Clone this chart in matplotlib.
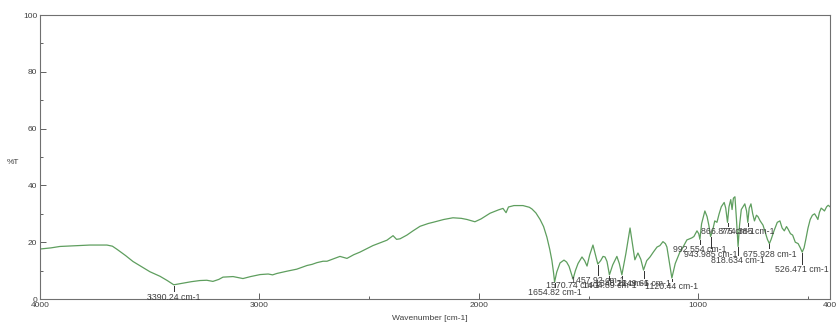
from matplotlib import pyplot as plt
from matplotlib.ticker import MultipleLocator, FixedLocator

# FTIR spectrum, wavenumber [cm-1] vs %T
wavenumber = [
    4000, 3950, 3909, 3850, 3772, 3695, 3670, 3649, 3610, 3576, 3540, 3499,
    3453, 3420, 3390.24, 3348, 3310, 3271, 3240, 3212, 3185, 3166, 3120, 3075,
    3040, 2997, 2960, 2940, 2920, 2874, 2830, 2783, 2760, 2738, 2710, 2692,
    2660, 2633, 2601, 2570, 2542, 2483, 2450, 2419, 2391, 2375, 2359, 2328,
    2300, 2268, 2230, 2209, 2160, 2118, 2080, 2054, 2018, 1990, 1949, 1910,
    1890, 1876, 1865, 1840, 1799, 1770, 1758, 1740, 1721, 1705, 1690, 1677,
    1667, 1660, 1654.82, 1645, 1630, 1612, 1600, 1589, 1570.74, 1560, 1548,
    1530, 1518, 1507, 1495, 1480, 1470, 1457.92, 1445, 1434, 1425, 1416,
    1404.89, 1390, 1371, 1360, 1348.21, 1330, 1311, 1300, 1289, 1275, 1262,
    1249.66, 1235, 1220, 1205, 1188, 1175, 1161, 1150, 1143, 1132, 1120.44,
    1105, 1084, 1068, 1052, 1030, 1020, 1006, 998, 992.554, 985, 970, 960,
    952, 943.985, 935, 925, 915, 905, 895, 882, 875, 866.875, 860, 852, 846,
    840, 833, 826, 818.634, 812, 804, 796, 788, 780, 774.385, 768, 760, 752,
    744, 735, 728, 718, 705, 695, 685, 675.928, 668, 655, 640, 628, 618, 608,
    598, 590, 580, 570, 558, 545, 535, 526.471, 518, 510, 500, 490, 480, 470,
    462, 455, 448, 440, 432, 425, 415, 408, 400,
]
transmittance = [
    17.6, 18.0, 18.5, 18.7, 19.0, 19.0, 18.6, 17.5, 15.3, 13.2, 11.5, 9.6,
    8.0, 6.5, 5.0, 5.6, 6.1, 6.5, 6.6, 6.2, 6.9, 7.7, 7.9, 7.2,
    7.9, 8.6, 8.8, 8.5, 9.0, 9.8, 10.5, 11.8, 12.2, 12.8, 13.3, 13.3,
    14.2, 15.0, 14.3, 15.6, 16.5, 18.8, 19.8, 20.7, 22.3, 21.0, 21.2, 22.5,
    24.0, 25.6, 26.6, 27.0, 28.0, 28.6, 28.4, 28.0, 27.2, 28.2, 30.2, 31.4,
    31.9, 30.4, 32.4, 32.9, 32.9, 32.3, 31.7, 30.3, 28.0, 25.5, 21.8, 17.5,
    13.5, 9.5, 6.0, 9.5, 12.7, 13.7, 13.0, 11.5, 7.0, 10.0, 12.5,
    14.8, 13.5, 11.6, 15.5, 19.0, 16.0, 12.3, 13.5, 15.0, 14.8, 13.2,
    8.5, 12.0, 15.0, 12.5, 8.5, 16.0, 25.0, 19.5, 13.8, 16.2, 14.0,
    10.2, 13.5, 14.8, 16.5, 18.3, 18.8, 20.2, 19.5, 18.3, 13.0, 7.4,
    12.5, 16.5, 18.5, 20.8, 21.5, 22.0, 24.0, 23.0, 21.0, 26.5, 31.0, 29.0,
    26.0, 22.0, 24.0, 27.5, 27.0, 30.0, 32.5, 34.0, 32.0, 27.0, 32.5, 35.0, 31.5,
    35.5, 36.0, 28.0, 18.5, 26.0, 31.5, 32.5, 33.5, 31.0, 27.0, 32.0, 33.5, 30.0,
    27.5, 29.5, 29.0, 27.5, 26.0, 23.5, 21.0, 19.5, 21.0, 24.0, 27.0, 27.5, 25.0, 24.0,
    25.5, 24.5, 23.0, 22.5, 20.0, 19.5, 18.0, 16.5, 18.0, 21.0, 25.0, 28.0, 29.5, 30.0,
    29.0, 28.0, 30.5, 32.0, 31.5, 31.0, 32.5, 33.0, 32.5,
]

# picked peaks and the height of their labels (%T units)
peak_names = ["3390.24", "1654.82", "1570.74", "1457.92", "1404.89", "1348.21",
              "1249.66", "1120.44", "992.554", "943.985", "866.875", "818.634",
              "774.385", "675.928", "526.471"]
peak_label_y = [0.7, 2.2, 4.6, 6.6, 4.6, 5.5, 5.5, 4.3, 17.3, 15.8, 23.6,
                13.6, 23.6, 15.8, 10.4]

line_color = '#5e9e5e'
text_color = '#404040'

fig = plt.figure(figsize=(8.38, 3.25), dpi=100)
ax = fig.add_axes([0.0477, 0.08, 0.9427, 0.8738])
ax.plot(wavenumber, transmittance, color=line_color, linewidth=0.9)

# peak markers: short vertical tick below the dip and the label under it
for name, ly in zip(peak_names, peak_label_y):
    w = float(name)
    t = transmittance[wavenumber.index(w)]
    ax.plot([w, w], [t - 0.3, ly + 2.0], color='#303030', linewidth=0.7)
    ax.text(w, ly, name + " cm-1", ha='center', va='center',
            fontsize=6.3, color=text_color, family='Liberation Sans')

ax.set_xlim(4000, 400)
ax.set_ylim(0, 100)
ax.xaxis.set_major_locator(FixedLocator([4000, 3000, 2000, 1000, 400]))
ax.xaxis.set_minor_locator(FixedLocator([3500, 2500, 1500, 500]))
ax.yaxis.set_major_locator(MultipleLocator(20))
ax.yaxis.set_minor_locator(MultipleLocator(10))
ax.tick_params(which='both', direction='in', colors='#606060',
               labelcolor=text_color, labelsize=6, width=0.7)
ax.tick_params(which='major', length=4, pad=2)
ax.tick_params(which='minor', length=2.5)
for lbl in ax.get_xticklabels() + ax.get_yticklabels():
    lbl.set_family('Liberation Sans')
for s in ax.spines.values():
    s.set_color('#707070')
    s.set_linewidth(0.8)

fig.text(13 / 838, 1 - 163 / 325, '%T', ha='center', va='center',
         fontsize=6, color=text_color, family='Liberation Sans')
fig.text(430 / 838, 1 - 318 / 325, 'Wavenumber [cm-1]', ha='center', va='center',
         fontsize=6, color=text_color, family='Liberation Sans')

plt.savefig("out.png", dpi=100)
